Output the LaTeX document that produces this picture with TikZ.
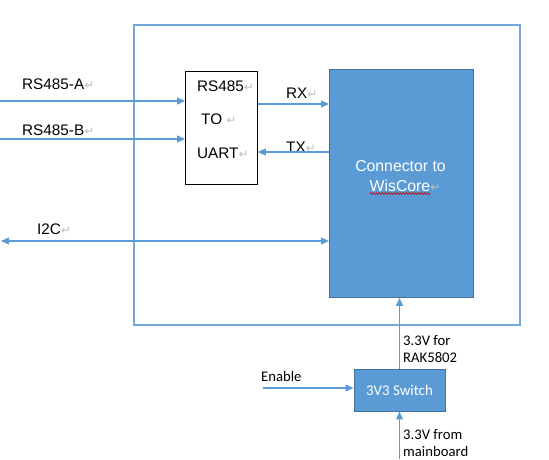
\documentclass[tikz,border=0pt]{standalone}
\usepackage{fontspec}
\setmainfont{Liberation Sans}
\newfontfamily\calfont{Carlito}
\newfontfamily\markfont{DejaVu Sans}
\usetikzlibrary{arrows.meta,decorations.pathmorphing}
\definecolor{wisblue}{HTML}{5B9BD5}
\definecolor{wisedge}{HTML}{41719C}
\definecolor{framebl}{HTML}{72A8DA}
\newcommand{\pmark}{{\markfont\color{gray!50}\fontsize{12}{12}\selectfont\char"21B5}}
\tikzset{sig/.style={draw=wisblue,line width=1.1pt,-{Triangle[length=8pt,width=7pt]}}}
\tikzset{lbl/.style={anchor=base west,inner sep=0pt,font=\fontsize{15.3}{18}\selectfont}}
\tikzset{vlbl/.style={anchor=base west,inner sep=0pt,font=\calfont\fontsize{14.7}{17}\selectfont}}
\tikzset{bluebox/.style={draw=wisedge,fill=wisblue,line width=0.9pt,inner sep=0pt}}

\begin{document}
\begin{tikzpicture}[x=1pt,y=-1pt]
\useasboundingbox (0,0) rectangle (549,459);
\draw[framebl,line width=1.3pt] (134,25) rectangle (520,325);
\node (conn) at (329,69) [bluebox,anchor=north west,minimum width=144pt,minimum height=228pt] {};
\node (rs) at (185,71) [draw=black,line width=0.8pt,anchor=north west,minimum width=72pt,minimum height=113pt,inner sep=0pt] {};
\node (sw) at (399.5,390) [bluebox,minimum width=91pt,minimum height=42pt,text=white,font=\calfont\fontsize{14.9}{17}\selectfont] {3V3 Switch};
% texts
\node (ctop) at (400.5,171) [anchor=base,inner sep=0pt,text=white,font=\fontsize{15.8}{18}\selectfont] {Connector to};
\node (cbot) at (400,191) [anchor=base,inner sep=0pt,text=white,font=\fontsize{15.8}{18}\selectfont] {WisCore\rlap{\pmark}};
\draw[red!75!black,line width=0.6pt,decorate,decoration={snake,amplitude=0.9pt,segment length=3pt}] ([yshift=-2.5pt]cbot.base west) -- ([yshift=-2.5pt]cbot.base east);
\node (rsa) at (22,89) [lbl] {RS485-A\pmark};
\node (rsb) at (22,135) [lbl] {RS485-B\pmark};
\node (ii) at (37,234) [lbl] {I2C\pmark};
\node (rx) at (286,98) [lbl] {RX\pmark};
\node (tx) at (286,152) [lbl] {TX\pmark};
\node (t1) at (197,91) [lbl] {RS485\pmark};
\node (t2) at (201,124) [lbl] {TO \pmark};
\node (t3) at (197,158) [lbl] {UART\pmark};
\node (en) at (261,381) [vlbl] {Enable};
\node (f1) at (403,345) [vlbl] {3.3V for};
\node (f2) at (403,362) [vlbl] {RAK5802};
\node (m1) at (403,439) [vlbl] {3.3V from};
\node (m2) at (403,456) [vlbl] {mainboard};
% connectors
\coordinate (pa) at (0,101);
\coordinate (pb) at (0,139);
\coordinate (prx) at (0,104);
\coordinate (ptx) at (0,152);
\coordinate (pi) at (1,241);
\coordinate (pen) at (263,388);
\coordinate (pmb) at (sw.south |- 0,459);
\draw[sig] (pa) -- (rs.west |- pa);
\draw[sig] (pb) -- (rs.west |- pb);
\draw[sig] (rs.east |- prx) -- (conn.west |- prx);
\draw[sig] (conn.west |- ptx) -- (rs.east |- ptx);
\draw[sig,{Triangle[length=8pt,width=7pt]}-{Triangle[length=8pt,width=7pt]}] (pi) -- (conn.west |- pi);
\draw[sig] (pen) -- (sw.west |- pen);
\draw[sig] (sw.north) -- (sw.north |- conn.south);
\draw[sig] (pmb) -- (sw.south);
\end{tikzpicture}
\end{document}
